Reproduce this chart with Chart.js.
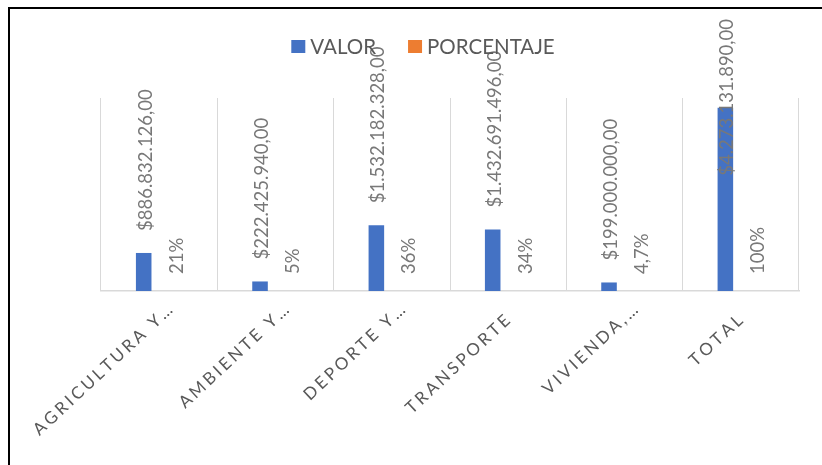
<!DOCTYPE html>
<html>
<head>
<meta charset="utf-8">
<script src="https://cdn.jsdelivr.net/npm/chart.js@4.4.1/dist/chart.umd.min.js"></script>
<style>
  html, body { margin: 0; padding: 0; background: #fff; overflow: hidden; }
  #wrap { position: relative; width: 822px; height: 465px; overflow: hidden; }
  #frame { position: absolute; left: 8px; top: 7px; width: 900px; height: 600px;
           border-left: 2px solid #000; border-top: 2px solid #000; pointer-events: none; }
  canvas { position: absolute; left: 0; top: 0; }
</style>
</head>
<body>
<div id="wrap">
  <canvas id="chart" width="822" height="465"></canvas>
  <div id="frame"></div>
</div>
<script>
// Budget by sector
const categories = ['AGRICULTURA Y…', 'AMBIENTE Y…', 'DEPORTE Y…', 'TRANSPORTE', 'VIVIENDA,…', 'TOTAL'];
const valor = [886832126, 222425940, 1532182328, 1432691496, 199000000, 4273131890];
const porcentaje = [0.21, 0.05, 0.36, 0.34, 0.047, 1.00];
const seriesNames = ['VALOR', 'PORCENTAJE'];
const seriesColors = ['#4472C4', '#ED7D31'];
const yMax = 4500000000;

const TEXT_GRAY = '#595959';
const LABEL_GRAY = '#787878';
const FONT = 'Lato, "Open Sans", sans-serif';

function fmtMoney(v) {
  const parts = v.toFixed(2).split('.');
  return '$' + parts[0].replace(/\B(?=(\d{3})+(?!\d))/g, '.') + ',' + parts[1];
}
function fmtPct(v) {
  const r = Math.round(v * 1000) / 10;
  return String(r).replace('.', ',') + '%';
}

// Legend drawn centred above the plot
const legendPlugin = {
  id: 'topLegend',
  afterDraw(chart) {
    const ctx = chart.ctx;
    ctx.save();
    ctx.font = '20.5px ' + FONT;
    ctx.textBaseline = 'middle';
    const box = 14, gapBox = 5, gapItem = 32, cy = 46.5;
    const items = chart.data.datasets.map(d => ({ label: d.label, color: d.backgroundColor,
      w: ctx.measureText(d.label).width }));
    let total = 0;
    items.forEach((it, i) => { total += box + gapBox + it.w + (i ? gapItem : 0); });
    let x = 423 - total / 2;
    items.forEach((it, i) => {
      if (i) x += gapItem;
      ctx.fillStyle = it.color;
      ctx.fillRect(x, cy - 6.5, box, 13);
      x += box + gapBox;
      ctx.fillStyle = TEXT_GRAY;
      ctx.textAlign = 'left';
      ctx.fillText(it.label, x, cy + 1);
      x += it.w;
    });
    ctx.restore();
  }
};

// Rotated value labels above each bar
const valueLabelPlugin = {
  id: 'valueLabels',
  afterDatasetsDraw(chart) {
    const ctx = chart.ctx;
    ctx.save();
    ctx.font = '18.5px ' + FONT;
    ctx.fillStyle = LABEL_GRAY;
    ctx.textAlign = 'left';
    ctx.textBaseline = 'middle';
    chart.data.datasets.forEach((ds, di) => {
      const meta = chart.getDatasetMeta(di);
      meta.data.forEach((bar, i) => {
        const v = ds.data[i];
        const text = di === 0 ? fmtMoney(v) : fmtPct(v);
        const w = ctx.measureText(text).width;
        const gap = di === 0 ? 22 : 17;
        let start = bar.y - gap;
        if (start - w < 19) start = 19 + w;
        ctx.save();
        ctx.translate(bar.x + 2, start);
        ctx.rotate(-Math.PI / 2);
        ctx.fillText(text, 0, 0);
        ctx.restore();
      });
    });
    ctx.restore();
  }
};

// Slanted, letter-spaced category labels under the axis (glyph by glyph)
const categoryLabelPlugin = {
  id: 'categoryLabels',
  afterDraw(chart) {
    const ctx = chart.ctx;
    const xs = chart.scales.x;
    const sp = 3;
    const ang = -43 * Math.PI / 180;
    ctx.save();
    ctx.font = '17px ' + FONT;
    ctx.fillStyle = TEXT_GRAY;
    ctx.textAlign = 'left';
    ctx.textBaseline = 'alphabetic';
    const spacedWidth = s => {
      let w = 0;
      for (const ch of s) w += ctx.measureText(ch).width + sp;
      return w - sp;
    };
    chart.data.labels.forEach((lab, i) => {
      const cx = xs.getPixelForValue(i);
      const hasEll = lab.endsWith('…');
      const core = hasEll ? lab.slice(0, -1) : lab;
      const w = spacedWidth(core);
      ctx.save();
      ctx.translate(cx + 3, 322);
      ctx.rotate(ang);
      let x = -w;
      for (const ch of core) {
        ctx.fillText(ch, x, 0);
        x += ctx.measureText(ch).width + sp;
      }
      if (hasEll) ctx.fillText('…', x, 0);
      ctx.restore();
    });
    ctx.restore();
  }
};

new Chart(document.getElementById('chart'), {
  type: 'bar',
  data: {
    labels: categories,
    datasets: [
      { label: seriesNames[0], data: valor, backgroundColor: seriesColors[0] },
      { label: seriesNames[1], data: porcentaje, backgroundColor: seriesColors[1] }
    ]
  },
  options: {
    responsive: false,
    animation: false,
    events: [],
    categoryPercentage: 0.532,
    barPercentage: 0.503,
    layout: { padding: { left: 101, right: 23, top: 98, bottom: 174 } },
    plugins: { legend: { display: false }, tooltip: { enabled: false }, title: { display: false } },
    scales: {
      x: {
        display: true,
        grid: { display: true, color: '#d9d9d9', lineWidth: 1, drawTicks: false, offset: true },
        border: { display: true, color: '#d9d9d9', width: 1.5 },
        ticks: { display: false }
      },
      y: {
        display: false,
        min: 0,
        max: yMax
      }
    }
  },
  plugins: [legendPlugin, valueLabelPlugin, categoryLabelPlugin]
});
</script>
</body>
</html>
